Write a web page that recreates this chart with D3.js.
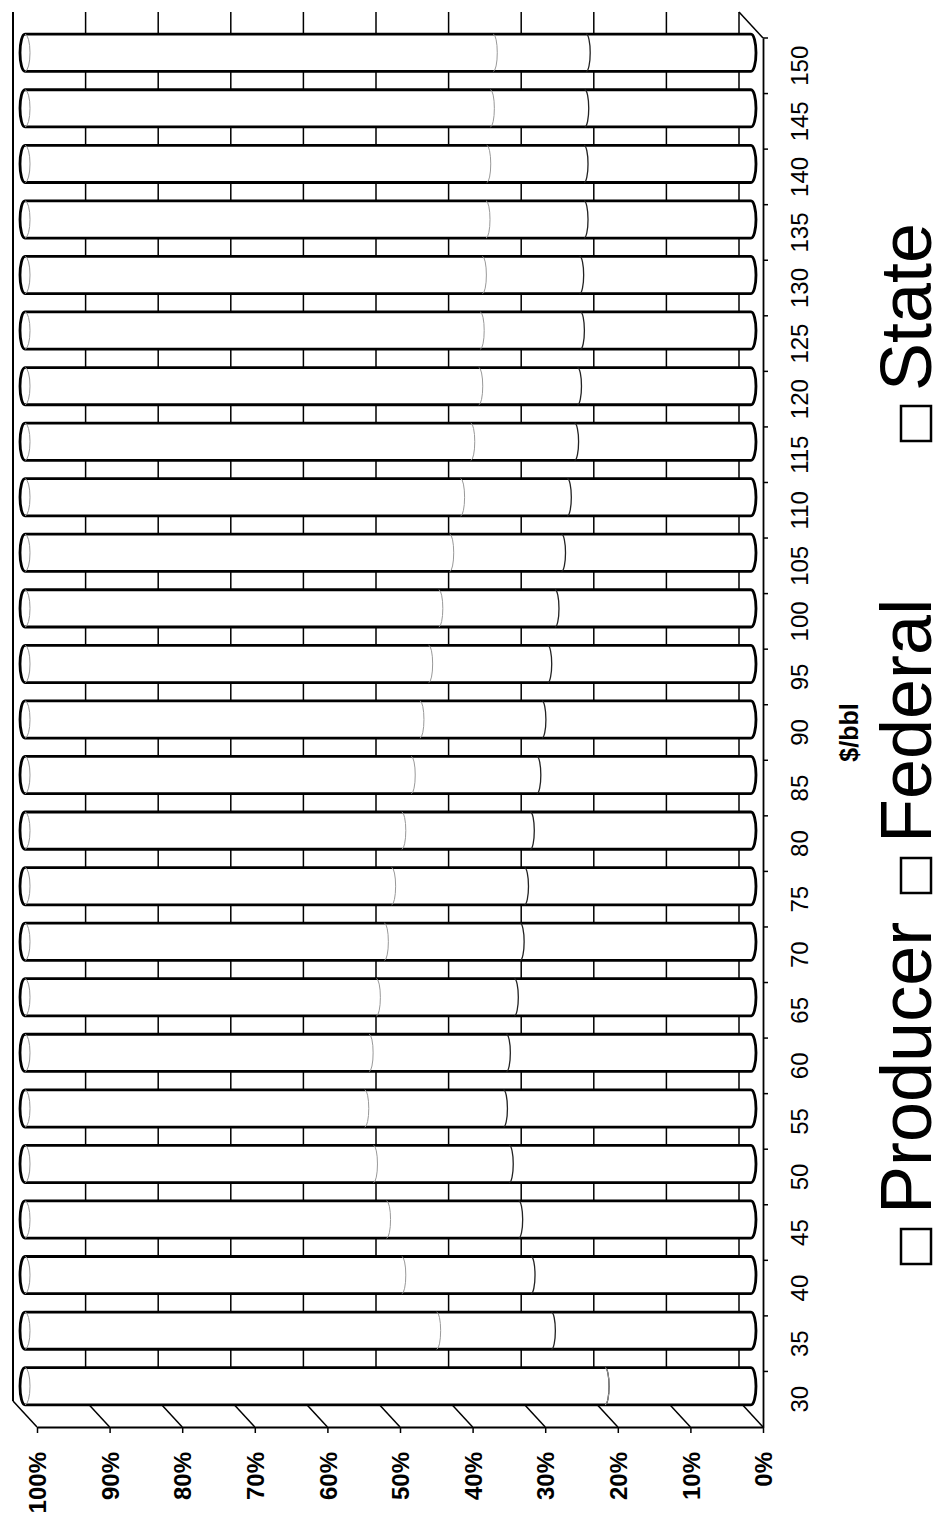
<!DOCTYPE html>
<html>
<head>
<meta charset="utf-8">
<script src="https://cdn.jsdelivr.net/npm/d3@7"></script>
<style>
body { margin: 0; background: #fff; }
text { font-family: "Liberation Sans", Arial, sans-serif; fill: #000; }
</style>
</head>
<body>
<svg width="947" height="1522"></svg>
<script>
// oil price, $/bbl
var prices = [30, 35, 40, 45, 50, 55, 60, 65, 70, 75, 80, 85, 90, 95, 100,
              105, 110, 115, 120, 125, 130, 135, 140, 145, 150];
// share of revenue, %
var producer = [20.1, 27.5, 30.3, 32.0, 33.3, 34.1, 33.7, 32.6, 31.8, 31.2, 30.4, 29.5, 28.8,
                28.0, 27.0, 26.1, 25.3, 24.3, 23.9, 23.5, 23.6, 23.0, 23.0, 22.9, 22.7];
var federal = [0, 15.8, 17.8, 18.2, 18.7, 19.1, 18.9, 19.0, 18.7, 18.3, 17.7, 17.3, 16.8,
               16.4, 16.0, 15.4, 14.7, 14.3, 13.6, 13.8, 13.4, 13.5, 13.4, 13.0, 12.8];
var state = [79.9, 56.7, 51.9, 49.8, 48.0, 46.8, 47.4, 48.4, 49.5, 50.5, 51.9, 53.2, 54.4,
             55.6, 57.0, 58.5, 60.0, 61.4, 62.5, 62.7, 63.0, 63.5, 63.6, 64.1, 64.5];
var seriesNames = ["Producer", "Federal", "State"];
var pctTicks = [0, 10, 20, 30, 40, 50, 60, 70, 80, 90, 100];

var svg = d3.select("svg");
svg.append("rect").attr("width", 947).attr("height", 1522).attr("fill", "#fff");

// 3d depth offset (back wall relative to front)
var dx = -24, dy = -26;

var x = d3.scaleLinear().domain([0, 100]).range([763, 37]);
var yFront = d3.scaleBand().domain(prices).range([1427, 38]);
var y = d3.scaleBand().domain(prices).range([1427, 38]).paddingInner(0.33).paddingOuter(0.165);

var table = prices.map(function(p, i) {
    return { price: p, Producer: producer[i], Federal: federal[i], State: state[i] };
});
var stacked = d3.stack().keys(seriesNames)(table);

var yTop = yFront.range()[1], yBot = yFront.range()[0];

// back wall gridlines
svg.append("g")
    .selectAll("line")
    .data(pctTicks)
    .enter().append("line")
    .attr("x1", function(d) { return x(d) + dx; })
    .attr("x2", function(d) { return x(d) + dx; })
    .attr("y1", yTop + dy)
    .attr("y2", yBot + dy)
    .attr("stroke", "#000")
    .attr("stroke-width", function(d) { return d == 100 ? 2 : 1.5; });

// side wall (bottom) gridlines
svg.append("g")
    .selectAll("line")
    .data(pctTicks)
    .enter().append("line")
    .attr("x1", function(d) { return x(d); })
    .attr("y1", yBot)
    .attr("x2", function(d) { return x(d) + dx; })
    .attr("y2", yBot + dy)
    .attr("stroke", "#000")
    .attr("stroke-width", 1.5);

// floor edge at the top
svg.append("line")
    .attr("x1", x(0) + dx).attr("y1", yTop + dy)
    .attr("x2", x(0)).attr("y2", yTop)
    .attr("stroke", "#000").attr("stroke-width", 1.5);

// cylinders
var cx = dx / 2, cy = dy / 2;
var rx = 5;
var bw = y.bandwidth();

var bars = svg.append("g").selectAll("g")
    .data(prices)
    .enter().append("g");

bars.append("path")
    .attr("d", function(c) {
        var t = y(c) + cy, b = t + bw, r = bw / 2;
        var x0 = x(100) + cx, x1 = x(0) + cx;
        return "M" + x0 + "," + t + "L" + x1 + "," + t +
               "A" + rx + "," + r + " 0 0 1 " + x1 + "," + b +
               "L" + x0 + "," + b +
               "A" + rx + "," + r + " 0 0 1 " + x0 + "," + t + "Z";
    })
    .attr("fill", "#fff")
    .attr("stroke", "#000")
    .attr("stroke-width", 2.8);

// top cap inner edge
bars.append("path")
    .attr("d", function(c) {
        var t = y(c) + cy, b = t + bw, r = bw / 2;
        var x0 = x(100) + cx;
        return "M" + x0 + "," + t + "A" + rx + "," + r + " 0 0 1 " + x0 + "," + b;
    })
    .attr("fill", "none")
    .attr("stroke", "#999")
    .attr("stroke-width", 1);

// segment boundaries
stacked.slice(0, 2).forEach(function(s, si) {
    svg.append("g")
        .selectAll("path")
        .data(s)
        .enter().append("path")
        .attr("d", function(d) {
            var t = y(d.data.price) + cy, b = t + bw, r = bw / 2;
            var xx = x(d[1]) + cx;
            return "M" + xx + "," + t + "A" + (rx - 1) + "," + r + " 0 0 1 " + xx + "," + b;
        })
        .attr("fill", "none")
        .attr("stroke", si == 0 ? "#222" : "#999")
        .attr("stroke-width", si == 0 ? 1.3 : 1);
});

// percent axis (front edge of side wall)
var xAxis = svg.append("g")
    .attr("transform", "translate(0," + yBot + ")")
    .call(d3.axisBottom(x).tickValues(pctTicks).tickSize(6).tickSizeOuter(0)
          .tickFormat(function(d) { return d + "%"; }));
xAxis.select(".domain").attr("stroke-width", 2);
xAxis.selectAll(".tick line").attr("stroke-width", 1.5);
xAxis.selectAll("text")
    .attr("transform", "rotate(-90)")
    .attr("x", -25).attr("y", 0).attr("dy", "0.36em")
    .attr("text-anchor", "end")
    .style("font-family", "'Liberation Sans', Arial, sans-serif")
    .style("font-size", "24px")
    .style("font-weight", "bold");

// category axis (front edge of floor)
var yAxis = svg.append("g")
    .attr("transform", "translate(" + x(0) + ",0)")
    .call(d3.axisRight(yFront).tickSize(0).tickSizeOuter(0));
yAxis.select(".domain").attr("stroke-width", 1.8);
yAxis.selectAll("text")
    .attr("transform", "rotate(-90)")
    .attr("x", 0).attr("y", 45).attr("dy", 0)
    .attr("text-anchor", "middle")
    .style("font-family", "'Liberation Sans', Arial, sans-serif")
    .style("font-size", "24px");
svg.append("g")
    .selectAll("line")
    .data(prices)
    .enter().append("line")
    .attr("x1", x(0)).attr("x2", x(0) + 5)
    .attr("y1", function(c) { return yFront(c); })
    .attr("y2", function(c) { return yFront(c); })
    .attr("stroke", "#000").attr("stroke-width", 1.5);

// axis title
svg.append("text")
    .attr("transform", "translate(858," + (yTop + yBot) / 2 + ") rotate(-90)")
    .attr("text-anchor", "middle")
    .style("font-size", "25px")
    .style("font-weight", "bold")
    .text("$/bbl");

// legend
var legendBoxBottom = [1264, 893, 441];
var legend = svg.append("g").selectAll("g")
    .data(seriesNames)
    .enter().append("g")
    .attr("transform", function(d, i) { return "translate(931," + legendBoxBottom[i] + ") rotate(-90)"; });
legend.append("rect")
    .attr("x", 0).attr("y", -30)
    .attr("width", 35).attr("height", 30)
    .attr("fill", "#fff")
    .attr("stroke", "#000")
    .attr("stroke-width", 2.5);
legend.append("text")
    .attr("x", 50).attr("y", 0)
    .style("font-size", "72px")
    .text(function(d) { return d; });
</script>
</body>
</html>
